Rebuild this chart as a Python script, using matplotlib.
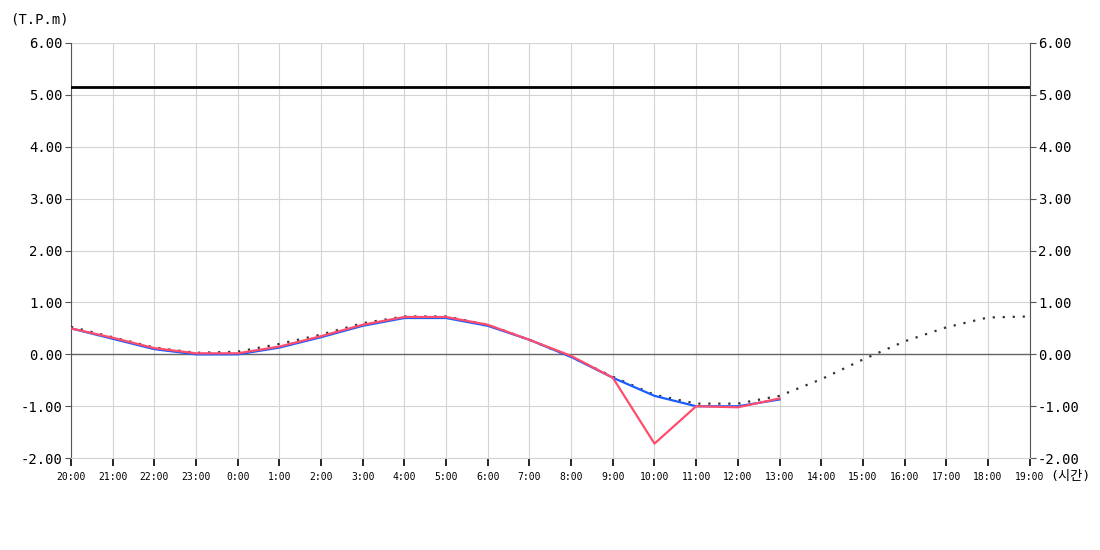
import matplotlib.pyplot as plt
import numpy as np

plt.rcParams['font.family'] = ['DejaVu Sans Mono', 'Noto Sans CJK KR']

# hourly labels, 20:00 .. 19:00 next day
hours = ['20:00', '21:00', '22:00', '23:00', '0:00', '1:00', '2:00', '3:00', '4:00',
         '5:00', '6:00', '7:00', '8:00', '9:00', '10:00', '11:00', '12:00', '13:00',
         '14:00', '15:00', '16:00', '17:00', '18:00', '19:00']

# predicted tide (dotted)
predicted = [0.53, 0.33, 0.13, 0.03, 0.05, 0.20, 0.38, 0.60, 0.73, 0.73, 0.57, 0.28,
             -0.05, -0.43, -0.78, -0.95, -0.95, -0.80, -0.48, -0.10, 0.25, 0.52, 0.71, 0.73]
# observed series (up to 13:00)
observed_blue = [0.50, 0.30, 0.10, 0.00, 0.00, 0.13, 0.33, 0.55, 0.70, 0.70, 0.55, 0.28,
                 -0.05, -0.45, -0.80, -1.00, -1.00, -0.87]
observed_red = [0.50, 0.32, 0.12, 0.02, 0.02, 0.15, 0.35, 0.57, 0.72, 0.72, 0.57, 0.28,
                -0.03, -0.45, -1.72, -1.00, -1.02, -0.85]
warning_level = 5.15

fig = plt.figure(figsize=(11, 5.5), dpi=100)
ax = fig.add_axes([0.0645, 0.167, 0.8715, 0.755])

x_all = np.arange(len(hours))
ax.plot(x_all, predicted, color='#333333', linestyle=(0, (1, 3.5)), linewidth=1.6, zorder=3)
ax.plot(np.arange(len(observed_blue)), observed_blue, color='#1a5cff', linewidth=1.6, zorder=4)
ax.plot(np.arange(len(observed_red)), observed_red, color='#ff4d6d', linewidth=1.6, zorder=5)
ax.axhline(warning_level, color='black', linewidth=2, zorder=6)
ax.axhline(0, color='#666666', linewidth=1, zorder=2)

ax.set_xlim(0, len(hours) - 1)
ax.set_ylim(-2, 6)
ax.set_xticks(x_all)
ax.set_xticklabels(hours, fontsize=7)
ax.set_yticks(range(-2, 7))
ax.set_yticklabels(['%.2f' % v for v in range(-2, 7)], fontsize=10)
ax.grid(True, color='#d4d4d4', linewidth=0.8, zorder=0)
ax.set_axisbelow(True)

ax.tick_params(axis='x', length=6, width=1.2, color='black', pad=4)
ax.tick_params(axis='y', length=4, color='#555555', right=True, labelright=True, pad=2)

ax.spines['top'].set_visible(False)
ax.spines['bottom'].set_color('#d4d4d4')
ax.spines['left'].set_color('#555555')
ax.spines['right'].set_color('#555555')

fig.text(0.009, 0.965, '(T.P.m)', fontsize=10, va='center', ha='left')
fig.text(0.955, 0.133, '(시간)', fontsize=9.5, va='center', ha='left')

fig.savefig('out.png', dpi=100)
